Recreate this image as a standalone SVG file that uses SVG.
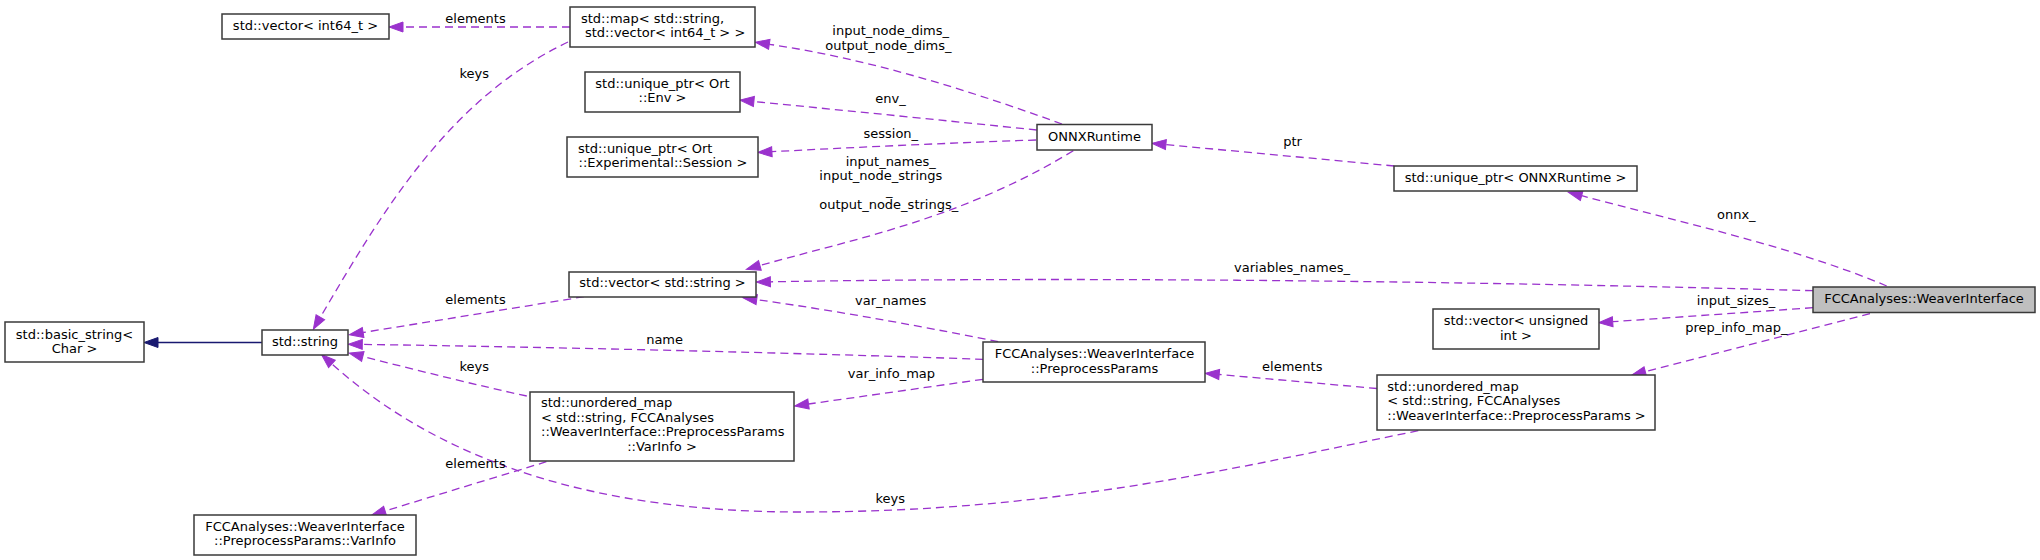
<svg xmlns="http://www.w3.org/2000/svg" width="2040" height="560" viewBox="0 0 2040 560">
<style>
text{font-family:"DejaVu Sans","Liberation Sans",sans-serif;font-size:13px;fill:#000}
.m{text-anchor:middle}
.n rect{fill:#fff;stroke:#3a3a3a;stroke-width:1.5}
.n rect.hl{fill:#bfbfbf}
.e path{fill:none;stroke:#9a32cd;stroke-width:1.3;stroke-dasharray:8,5}
.e path.inh{stroke:#191970;stroke-dasharray:none}
</style>
<defs>
<marker id="ah" markerUnits="userSpaceOnUse" markerWidth="16" markerHeight="12" refX="0" refY="5" orient="auto" overflow="visible"><path d="M0,0 L14,5 L0,10 z" fill="#9a32cd" stroke="#9a32cd" stroke-width="1"/></marker>
<marker id="ahb" markerUnits="userSpaceOnUse" markerWidth="16" markerHeight="12" refX="0" refY="5" orient="auto" overflow="visible"><path d="M0,0 L14,5 L0,10 z" fill="#191970" stroke="#191970" stroke-width="1"/></marker>
</defs>
<rect width="2040" height="560" fill="#fff"/>

<g id="connectors" class="e">
<path d="M570,27 L403,27" marker-end="url(#ah)"/>
<text class="m" x="475.5" y="22.5">elements</text>
<path d="M568,42 C451,98 386,205 320.4,317.2" marker-end="url(#ah)"/>
<text class="m" x="474.3" y="78">keys</text>
<path d="M1062,124 C968,90 868,58.7 769.3,44.3" marker-end="url(#ah)"/>
<text class="m" x="890.7" y="35">input_node_dims_</text>
<text class="m" x="888.4" y="49.5">output_node_dims_</text>
<path d="M1036.7,130 C950,121 850,111 753.9,101.5" marker-end="url(#ah)"/>
<text class="m" x="890.5" y="102.5">env_</text>
<path d="M1036,140 C950,143 860,147 771.9,151.7" marker-end="url(#ah)"/>
<text class="m" x="890.8" y="138">session_</text>
<path d="M1073.3,150.7 C962.4,218.4 856.2,238.5 759.9,265.5" marker-end="url(#ah)"/>
<text x="845.7" y="165.5">input_names_</text>
<text x="819.3" y="180">input_node_strings</text>
<text x="886" y="194.5">_</text>
<text x="819.3" y="209">output_node_strings_</text>
<path d="M1813,290.7 C1500,282 1100,276 770.4,281.8" marker-end="url(#ah)"/>
<text class="m" x="1292" y="272">variables_names_</text>
<path d="M1886.7,286 C1794.7,247 1678.2,221.7 1581.7,195.7" marker-end="url(#ah)"/>
<text class="m" x="1736.3" y="219">onnx_</text>
<path d="M1394.3,166 L1165.9,144.6" marker-end="url(#ah)"/>
<text class="m" x="1292.5" y="146">ptr</text>
<path d="M1813,307.7 L1612.7,321.7" marker-end="url(#ah)"/>
<text class="m" x="1736" y="304.5">input_sizes_</text>
<path d="M1870,313.7 L1645.3,371.6" marker-end="url(#ah)"/>
<text class="m" x="1736.3" y="331.5">prep_info_map_</text>
<path d="M1377,388.5 L1219.2,374.5" marker-end="url(#ah)"/>
<text class="m" x="1292.3" y="370.5">elements</text>
<path d="M1418.3,430.7 C1222.3,470.7 1050,512 800,512 C600,512 443.5,464.1 331.9,363.9" marker-end="url(#ah)"/>
<text class="m" x="890.2" y="503">keys</text>
<path d="M998.2,341.7 C940,330 840,311 756.7,299.7" marker-end="url(#ah)"/>
<text class="m" x="890.7" y="304.5">var_names</text>
<path d="M983,359.3 C800,353 550,347 362.3,344.4" marker-end="url(#ah)"/>
<text class="m" x="664.6" y="344">name</text>
<path d="M983,379.3 L808.5,404" marker-end="url(#ah)"/>
<text class="m" x="891.4" y="378">var_info_map</text>
<path d="M584,296.7 L363.1,332.5" marker-end="url(#ah)"/>
<text class="m" x="475.5" y="304">elements</text>
<path d="M526.8,396 C480,386 420,371 362.8,356.5" marker-end="url(#ah)"/>
<text class="m" x="474.3" y="371">keys</text>
<path d="M546.4,461.7 C500,476 440,494 385.1,511" marker-end="url(#ah)"/>
<text class="m" x="475.5" y="468">elements</text>
<path class="inh" d="M262,342.5 L158,342.5" marker-end="url(#ahb)"/>
</g>

<g id="n_vector_int64" class="n"><rect x="222" y="14" width="167" height="25"/><text class="m" x="305.5" y="30">std::vector&lt; int64_t &gt;</text></g>
<g id="n_map" class="n"><rect x="570" y="7" width="185" height="40"/><text x="581" y="22.5">std::map&lt; std::string,</text><text x="585" y="37">std::vector&lt; int64_t &gt; &gt;</text></g>
<g id="n_env" class="n"><rect x="585" y="72" width="155" height="40"/><text class="m" x="662.5" y="87.5">std::unique_ptr&lt; Ort</text><text class="m" x="662.5" y="102">::Env &gt;</text></g>
<g id="n_session" class="n"><rect x="567" y="137" width="191" height="40"/><text x="578" y="152.5">std::unique_ptr&lt; Ort</text><text x="578.5" y="167">::Experimental::Session &gt;</text></g>
<g id="n_onnx" class="n"><rect x="1037" y="124.5" width="115" height="25.5"/><text class="m" x="1094.5" y="141">ONNXRuntime</text></g>
<g id="n_vector_string" class="n"><rect x="569" y="272" width="187" height="25"/><text class="m" x="662.5" y="286.5">std::vector&lt; std::string &gt;</text></g>
<g id="n_uptr_onnx" class="n"><rect x="1394" y="166" width="243" height="25"/><text class="m" x="1515.5" y="181.5">std::unique_ptr&lt; ONNXRuntime &gt;</text></g>
<g id="n_weaver" class="n"><rect class="hl" x="1813" y="287" width="222" height="25.5"/><text class="m" x="1924" y="303">FCCAnalyses::WeaverInterface</text></g>
<g id="n_vector_uint" class="n"><rect x="1433" y="309" width="166" height="40"/><text class="m" x="1516" y="325">std::vector&lt; unsigned</text><text class="m" x="1516" y="339.5">int &gt;</text></g>
<g id="n_umap_pp" class="n"><rect x="1377" y="375" width="278" height="55"/><text x="1387.3" y="390.5">std::unordered_map</text><text x="1387.3" y="405">&lt; std::string, FCCAnalyses</text><text x="1387.3" y="419.5">::WeaverInterface::PreprocessParams &gt;</text></g>
<g id="n_pp" class="n"><rect x="983" y="342" width="222" height="40"/><text class="m" x="1094.5" y="358.3">FCCAnalyses::WeaverInterface</text><text class="m" x="1094.5" y="372.8">::PreprocessParams</text></g>
<g id="n_basic_string" class="n"><rect x="5" y="322" width="139" height="40"/><text class="m" x="74.5" y="338.5">std::basic_string&lt;</text><text class="m" x="74.5" y="353">Char &gt;</text></g>
<g id="n_string" class="n"><rect x="262" y="330" width="86" height="25"/><text class="m" x="305" y="346">std::string</text></g>
<g id="n_umap_varinfo" class="n"><rect x="530" y="392" width="264" height="69"/><text x="541" y="407.3">std::unordered_map</text><text x="541" y="421.8">&lt; std::string, FCCAnalyses</text><text x="541" y="436.3">::WeaverInterface::PreprocessParams</text><text class="m" x="662" y="450.8">::VarInfo &gt;</text></g>
<g id="n_varinfo" class="n"><rect x="194" y="515" width="222" height="40"/><text class="m" x="305" y="530.7">FCCAnalyses::WeaverInterface</text><text class="m" x="305" y="545.2">::PreprocessParams::VarInfo</text></g>
</svg>
